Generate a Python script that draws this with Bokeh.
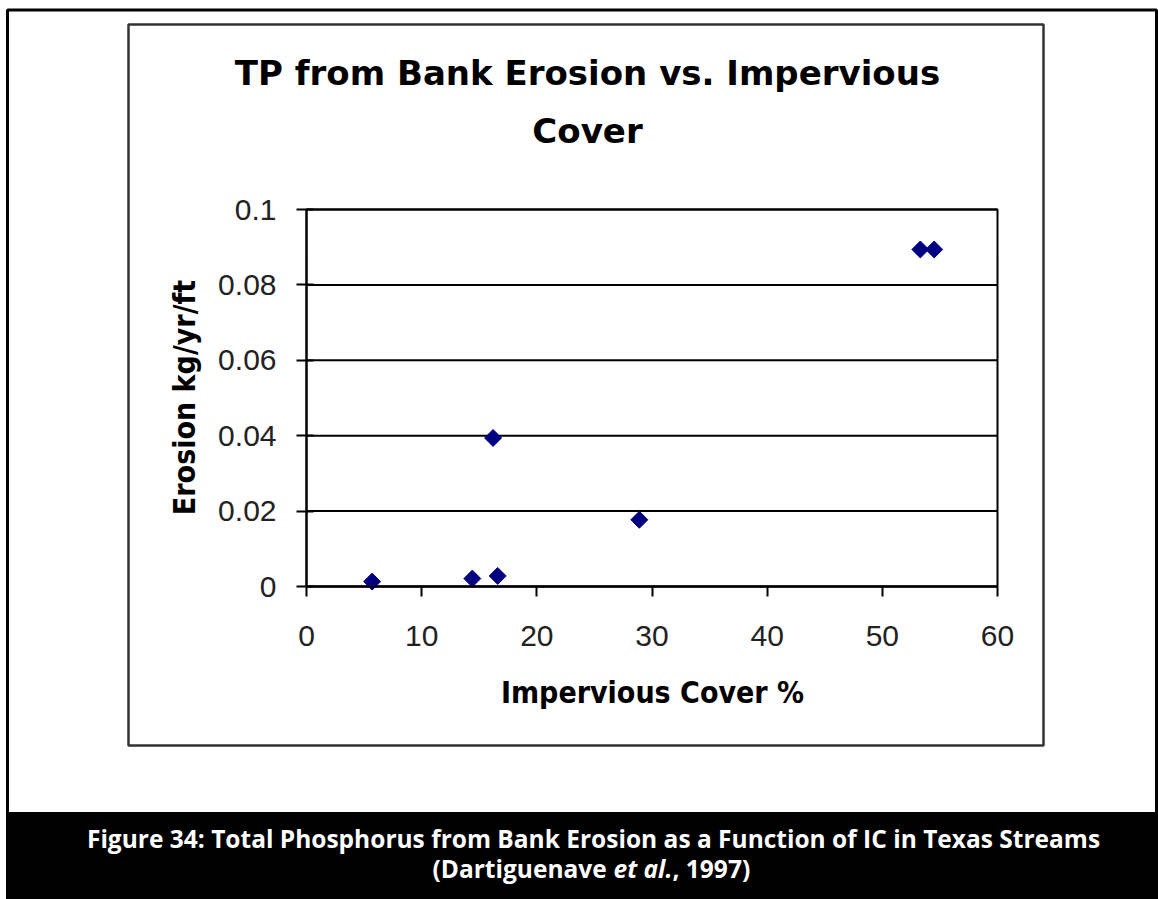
from bokeh.plotting import figure
from bokeh.models import Label, BoxAnnotation, Range1d, FixedTicker, LinearAxis
from bokeh.embed import file_html
from bokeh.resources import INLINE
import numpy as np

# ---- data ----
impervious_cover = [5.7, 14.4, 16.6, 16.2, 28.9, 53.3, 54.5]
erosion = [0.0013, 0.0021, 0.0028, 0.0394, 0.0177, 0.0894, 0.0894]
x_ticks = [0, 10, 20, 30, 40, 50, 60]
y_ticks = [0, 0.02, 0.04, 0.06, 0.08, 0.1]
y_tick_labels = ["0", "0.02", "0.04", "0.06", "0.08", "0.1"]
title_lines = ["TP from Bank Erosion vs. Impervious", "Cover"]
x_label = "Impervious Cover %"
y_label = "Erosion kg/yr/ft"
caption_line1 = "Figure 34: Total Phosphorus from Bank Erosion as a Function of IC in Texas Streams"
caption_line2 = ["(Dartiguenave", "et al.", ", 1997)"]

# ---- layout (canvas pixels, origin top-left) ----
W, H = 1158, 899
PL, PR, PT, PB = 306, 997, 209, 586  # plot-area edges
x0, x1 = x_ticks[0], x_ticks[-1]
y0, y1 = y_ticks[0], y_ticks[-1]
kx = (PR - PL) / (x1 - x0)
ky = (PB - PT) / (y1 - y0)
x_range = Range1d(x0 - PL / kx, x1 + (W - PR) / kx)
y_range = Range1d(y0 - (H - PB) / ky, y1 + PT / ky)

def sx(cx):
    return cx

def sy(cy):
    return H - cy

tick_font = "Liberation Sans"
label_font = "Liberation Sans Narrow, DejaVu Sans Condensed, Liberation Sans"

p = figure(width=W, height=H, output_backend="svg", toolbar_location=None,
           x_range=x_range, y_range=y_range,
           x_axis_location=None, y_axis_location=None,
           min_border=0, min_border_left=0, min_border_right=0,
           min_border_top=0, min_border_bottom=0)
p.background_fill_color = "white"
p.border_fill_color = "white"
p.outline_line_color = None
p.grid.visible = False

def screen_box(l, r, t, b, **kw):
    return BoxAnnotation(left=sx(l), right=sx(r), top=sy(t), bottom=sy(b),
                         left_units="screen", right_units="screen",
                         top_units="screen", bottom_units="screen",
                         level="underlay", **kw)

# caption band and boxes
p.add_layout(screen_box(6, 1158, 813, 899, fill_color="black", fill_alpha=1,
                        line_color="black", line_alpha=1))
p.add_layout(screen_box(7, 1156, 9.5, 813, fill_alpha=0, line_color="black",
                        line_alpha=1, line_width=3))
p.add_layout(screen_box(128, 1043, 24, 745, fill_alpha=0, line_color="#333333",
                        line_alpha=1, line_width=2.5))

# horizontal gridlines at the y ticks, over the plot area only
p.segment(x0=[x0] * len(y_ticks), x1=[x1] * len(y_ticks), y0=y_ticks, y1=y_ticks,
          line_color="black", line_width=2)
# plot area border
p.add_layout(BoxAnnotation(left=x0, right=x1, bottom=y0, top=y1,
                           fill_alpha=0, line_color="black", line_alpha=1, line_width=2,
                           level="underlay"))

p.scatter(impervious_cover, erosion, marker="square", size=12, angle=np.pi / 4,
          fill_color="#000080", line_color="#000080")

# axes fixed at the origin of the plot area
xaxis = LinearAxis(fixed_location=y0, bounds=(x0, x1), ticker=FixedTicker(ticks=x_ticks))
yaxis = LinearAxis(fixed_location=x0, bounds=(y0, y1), ticker=FixedTicker(ticks=y_ticks))
yaxis.major_label_overrides = {t: s for t, s in zip(y_ticks, y_tick_labels)}
for ax in (xaxis, yaxis):
    ax.axis_line_color = "black"
    ax.axis_line_width = 2
    ax.major_tick_line_color = "black"
    ax.major_tick_line_width = 2
    ax.minor_tick_line_color = None
    ax.major_label_text_font = tick_font
    ax.major_label_text_font_size = "30px"
    ax.major_label_text_color = "#222222"
xaxis.major_tick_out = 10
xaxis.major_tick_in = 0
yaxis.major_tick_out = 10
yaxis.major_tick_in = 7
xaxis.major_label_standoff = 29
yaxis.major_label_standoff = 20
p.add_layout(xaxis, "below")
p.add_layout(yaxis, "left")

# axis titles
p.add_layout(Label(x=sx(652), y=sy(692), x_units="screen", y_units="screen", text=x_label,
                   text_align="center", text_baseline="middle", text_font=label_font,
                   text_font_style="bold", text_font_size="30px", text_color="black"))
p.add_layout(Label(x=sx(184), y=sy(397), x_units="screen", y_units="screen", text=y_label,
                   angle=np.pi / 2, text_align="center", text_baseline="middle",
                   text_font=label_font, text_font_style="bold", text_font_size="30px",
                   text_color="black"))

# chart title
for txt, cy in zip(title_lines, [72, 130]):
    p.add_layout(Label(x=sx(587), y=sy(cy), x_units="screen", y_units="screen", text=txt,
                       text_align="center", text_baseline="middle",
                       text_font="DejaVu Sans", text_font_style="bold",
                       text_font_size="34px", text_color="black"))

# caption
p.add_layout(Label(x=sx(593), y=sy(838), x_units="screen", y_units="screen", text=caption_line1,
                   text_align="center", text_baseline="middle", text_font="Open Sans",
                   text_font_style="bold", text_font_size="24.5px", text_color="white"))
for txt, cx, st in zip(caption_line2, [432, 613, 672], ["bold", "bold italic", "bold"]):
    p.add_layout(Label(x=sx(cx), y=sy(868), x_units="screen", y_units="screen", text=txt,
                       text_align="left", text_baseline="middle", text_font="Open Sans",
                       text_font_style=st, text_font_size="24.5px", text_color="white"))

open("out.html", "w").write(file_html(p, INLINE))
